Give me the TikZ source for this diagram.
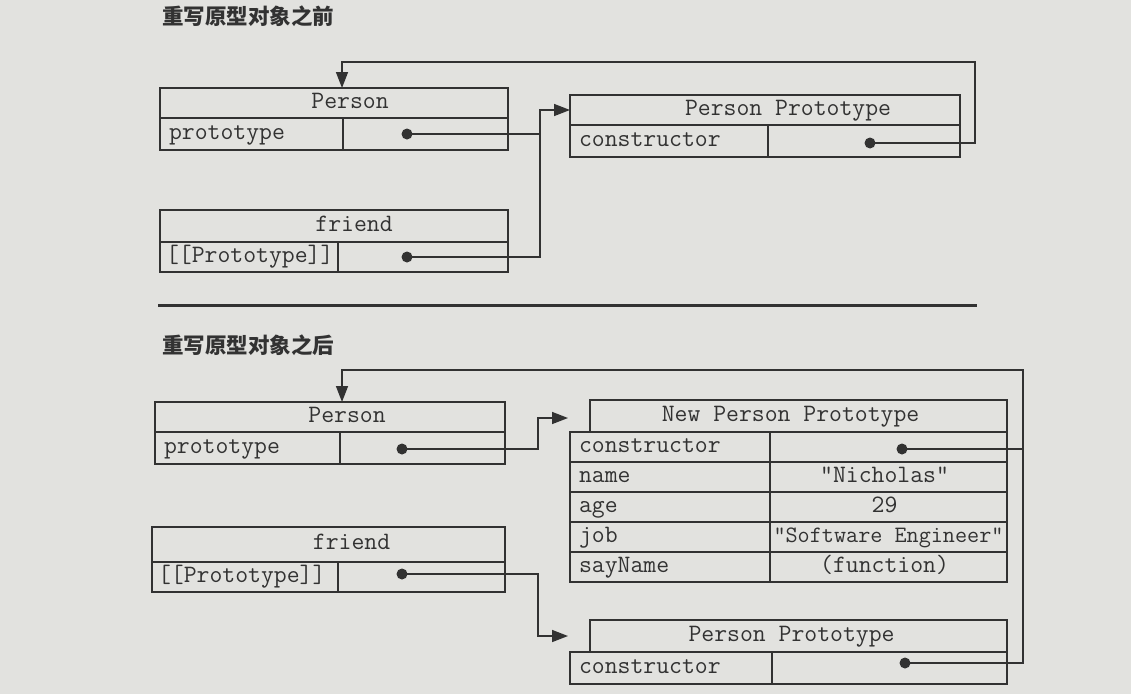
\documentclass[tikz,border=0pt]{standalone}
\usepackage{fontspec}
\newfontfamily\cjk{Noto Sans CJK SC}
\usetikzlibrary{arrows.meta}
\definecolor{bgcol}{RGB}{226,226,223}
\definecolor{ink}{RGB}{50,50,50}
\tikzset{
  cell/.style={draw=ink, line width=1.5pt, inner sep=0pt, outer sep=0pt, anchor=north west,
    font=\ttfamily\fontsize{25}{28}\selectfont, text=ink, text height=14pt, text depth=4pt},
  fld/.style={cell, align=left, inner xsep=9pt},
  dotmark/.style={circle, fill=ink, inner sep=0pt, minimum size=11pt},
  conn/.style={draw=ink, line width=1.5pt},
  arr/.style={conn, -{Triangle[length=16pt,width=12pt]}},
  title/.style={font=\cjk\bfseries\fontsize{21.5}{26}\selectfont, text=ink, anchor=west, inner sep=0pt},
}
\begin{document}
\begin{tikzpicture}[x=1pt,y=-1pt]
\fill[bgcol] (0,0) rectangle (1131,694);
\useasboundingbox (0,0) rectangle (1131,694);

% ---------- before ----------
\node[title] (t1) at (162,16) {重写原型对象之前};

\node[cell, minimum width=348pt, minimum height=30pt] (ph1) at (160,88) {\hspace*{32pt}Person};
\node[fld, text width=165pt, minimum height=32pt] (pf1) at (160,118) {prototype};
\node[cell, minimum width=165pt, minimum height=32pt] (pv1) at (343,118) {};
\node[dotmark] (d1) at (407,134) {};

\node[cell, minimum width=390pt, minimum height=30pt] (pph1) at (570,95) {\hspace*{46pt}Person Prototype};
\node[fld, text width=180pt, minimum height=32pt] (ppf1) at (570,125) {constructor};
\node[cell, minimum width=192pt, minimum height=32pt] (ppv1) at (768,125) {};
\node[dotmark] (d3) at (870,143) {};

\node[cell, minimum width=348pt, minimum height=32pt] (fh1) at (160,210) {\hspace*{40pt}friend};
\node[fld, minimum height=30pt, inner xsep=6pt, text width=166pt] (ff1) at (160,242) {[[Prototype]]};
\node[cell, minimum width=170pt, minimum height=30pt] (fv1) at (338,242) {};
\node[dotmark] (d2) at (407,257) {};

\coordinate (j1) at (540,110);
\draw[arr] (d1.center) -| (j1) -- (pph1.west);
\draw[conn] (d2.center) -| (j1);
\coordinate (r1) at (975,62);
\coordinate (l1) at (342,62);
\coordinate (e1) at (342,88);
\draw[arr] (d3.center) -| (r1) -- (l1) -- (e1);

% ---------- rule ----------
\coordinate (ra) at (158,305);
\coordinate (rb) at (977,305);
\draw[draw=ink, line width=3pt] (ra) -- (rb);

% ---------- after ----------
\node[title] (t2) at (162,345) {重写原型对象之后};

\node[cell, minimum width=350pt, minimum height=30pt] (ph2) at (155,402) {\hspace*{34pt}Person};
\node[fld, text width=167pt, minimum height=32pt] (pf2) at (155,432) {prototype};
\node[cell, minimum width=165pt, minimum height=32pt] (pv2) at (340,432) {};
\node[dotmark] (d4) at (402,449) {};

\node[cell, minimum width=417pt, minimum height=32pt] (nh) at (590,400) {New Person Prototype\hspace*{16pt}};
\node[fld, text width=182pt, minimum height=30pt] (nf1) at (570,432) {constructor};
\node[cell, minimum width=237pt, minimum height=30pt] (nv1) at (770,432) {};
\node[fld, text width=182pt, minimum height=30pt] (nf2) at (570,462) {name};
\node[cell, minimum width=237pt, minimum height=30pt] (nv2) at (770,462) {"Nicholas"\hspace*{8pt}};
\node[fld, text width=182pt, minimum height=30pt] (nf3) at (570,492) {age};
\node[cell, minimum width=237pt, minimum height=30pt] (nv3) at (770,492) {29\hspace*{8pt}};
\node[fld, text width=182pt, minimum height=30pt] (nf4) at (570,522) {job};
\node[cell, minimum width=237pt, minimum height=30pt, font=\ttfamily\fontsize{23.5}{26}\selectfont] (nv4) at (770,522) {"Software Engineer"};
\node[fld, text width=182pt, minimum height=30pt] (nf5) at (570,552) {sayName};
\node[cell, minimum width=237pt, minimum height=30pt] (nv5) at (770,552) {(function)\hspace*{8pt}};
\node[dotmark] (d6) at (902,449) {};

\node[cell, minimum width=353pt, minimum height=35pt] (fh2) at (152,527) {\hspace*{46pt}friend};
\node[fld, text width=174pt, minimum height=30pt, inner xsep=6pt] (ff2) at (152,562) {[[Prototype]]};
\node[cell, minimum width=167pt, minimum height=30pt] (fv2) at (338,562) {};
\node[dotmark] (d5) at (402,574) {};

\node[cell, minimum width=417pt, minimum height=32pt] (oh) at (590,620) {Person Prototype\hspace*{14pt}};
\node[fld, text width=184pt, minimum height=32pt] (of) at (570,652) {constructor};
\node[cell, minimum width=235pt, minimum height=32pt] (ov) at (772,652) {};
\node[dotmark] (d7) at (905,663) {};

\coordinate (a1) at (538,418);
\coordinate (a1e) at (568,418);
\draw[arr] (d4.center) -| (a1) -- (a1e);
\coordinate (a2) at (538,636);
\coordinate (a2e) at (568,636);
\draw[arr] (d5.center) -| (a2) -- (a2e);

\coordinate (vr) at (1023,449);
\draw[conn] (d6.center) -- (vr);
\coordinate (r2) at (1023,370);
\coordinate (l2) at (342,370);
\coordinate (e2) at (342,402);
\draw[arr] (d7.center) -| (r2) -- (l2) -- (e2);
\end{tikzpicture}
\end{document}
